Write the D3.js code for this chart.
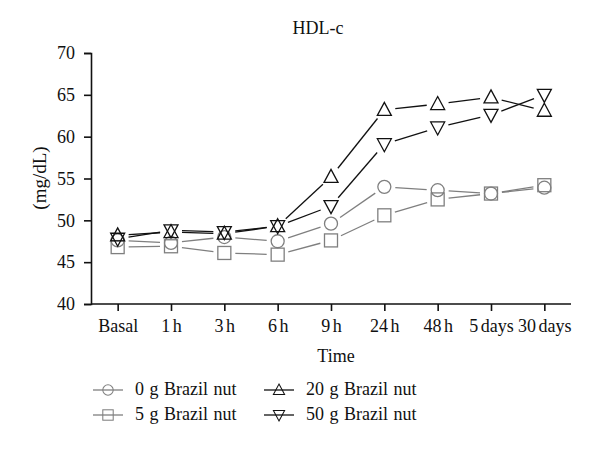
<!DOCTYPE html>
<html lang="en">
<head>
<meta charset="UTF-8">
<title>HDL-c</title>
<script src="https://d3js.org/d3.v7.min.js"></script>
<style>
    body { margin: 0; background: #fff; }
    text { font-family: "Liberation Serif", "DejaVu Serif", serif; fill: #111; }
    .axis path, .axis line { stroke: #111; stroke-width: 1.6px; }
    .axis text { font-size: 18px; }
    .x-axis text { word-spacing: -2px; }
</style>
</head>
<body>
<div id="chart"></div>
<script>
// categories and series
const times = ["Basal", "1 h", "3 h", "6 h", "9 h", "24 h", "48 h", "5 days", "30 days"];
const yTicks = [40, 45, 50, 55, 60, 65, 70];
const g0 = [47.6, 47.3, 48.0, 47.5, 49.6, 54.0, 53.6, 53.2, 53.9];
const g5 = [46.8, 46.9, 46.1, 45.9, 47.6, 50.6, 52.5, 53.2, 54.2];
const g20 = [48.2, 48.6, 48.4, 49.3, 55.2, 63.2, 63.9, 64.7, 63.1];
const g50 = [47.8, 48.8, 48.6, 49.3, 51.7, 59.1, 61.1, 62.6, 65.0];

const series = [
    { name: "0 g Brazil nut", values: g0, symbol: "circle", color: "#7f7f7f" },
    { name: "5 g Brazil nut", values: g5, symbol: "square", color: "#7f7f7f" },
    { name: "20 g Brazil nut", values: g20, symbol: "up", color: "#111" },
    { name: "50 g Brazil nut", values: g50, symbol: "down", color: "#111" }
];

const width = 600, height = 449;
const svg = d3.select("#chart").append("svg")
    .attr("width", width).attr("height", height);

const x = d3.scalePoint().domain(times).range([91, 571]).padding(0.5);
const y = d3.scaleLinear().domain([40, 70]).range([304, 53]);

// axes
svg.append("g").attr("class", "axis x-axis")
    .attr("transform", "translate(0,304)")
    .call(d3.axisBottom(x).tickSize(7).tickPadding(8))
    .call(g => g.select(".domain").attr("d", "M91,0H571"));

svg.append("g").attr("class", "axis")
    .attr("transform", "translate(91,0)")
    .call(d3.axisLeft(y).tickValues(yTicks).tickSize(7).tickPadding(9));

// title and labels
svg.append("text").attr("x", 318).attr("y", 34)
    .attr("text-anchor", "middle").style("font-size", "18px").text("HDL-c");
svg.append("text").attr("x", 336).attr("y", 362)
    .attr("text-anchor", "middle").style("font-size", "18px").text("Time");
svg.append("text").attr("transform", "translate(46,178) rotate(-90)")
    .attr("text-anchor", "middle").style("font-size", "19px").text("(mg/dL)");

// marker drawing
function drawMarker(g, type, cx, cy) {
    const r = 6.5;
    if (type === "circle") {
        g.append("circle").attr("cx", cx).attr("cy", cy).attr("r", r);
    } else if (type === "square") {
        g.append("rect").attr("x", cx - r).attr("y", cy - r)
            .attr("width", 2 * r).attr("height", 2 * r);
    } else if (type === "up") {
        g.append("path").attr("d", `M${cx},${cy - r - 1}L${cx + r + 0.5},${cy + r - 1}L${cx - r - 0.5},${cy + r - 1}Z`);
    } else {
        g.append("path").attr("d", `M${cx},${cy + r + 1}L${cx + r + 0.5},${cy - r + 1}L${cx - r - 0.5},${cy - r + 1}Z`);
    }
}

// lines with gaps around markers, then markers
const gap = 11;
series.forEach(s => {
    const g = svg.append("g")
        .attr("fill", "none").attr("stroke", s.color).attr("stroke-width", 1.3);
    const pts = s.values.map((v, i) => [x(times[i]), y(v)]);
    for (let i = 0; i < pts.length - 1; i++) {
        const [x1, y1] = pts[i], [x2, y2] = pts[i + 1];
        const dx = x2 - x1, dy = y2 - y1, len = Math.hypot(dx, dy);
        if (len <= 2 * gap) continue;
        const ux = dx / len, uy = dy / len;
        g.append("line")
            .attr("x1", x1 + ux * gap).attr("y1", y1 + uy * gap)
            .attr("x2", x2 - ux * gap).attr("y2", y2 - uy * gap);
    }
    pts.forEach(p => drawMarker(g, s.symbol, p[0], p[1]));
});

// legend
const legendPos = [[108, 390], [108, 415], [279, 390], [279, 415]];
series.forEach((s, i) => {
    const [lx, ly] = legendPos[i];
    const g = svg.append("g")
        .attr("fill", "none").attr("stroke", s.color).attr("stroke-width", 1.3);
    g.append("line").attr("x1", lx - 15).attr("x2", lx + 15)
        .attr("y1", ly).attr("y2", ly);
    const lg = g.append("g").attr("transform", `translate(${lx},${ly}) scale(0.8)`);
    drawMarker(lg, s.symbol, 0, 0);
    svg.append("text").attr("x", lx + 27).attr("y", ly + 5)
        .style("font-size", "18px").style("word-spacing", "1px").text(s.name);
});
</script>
</body>
</html>
